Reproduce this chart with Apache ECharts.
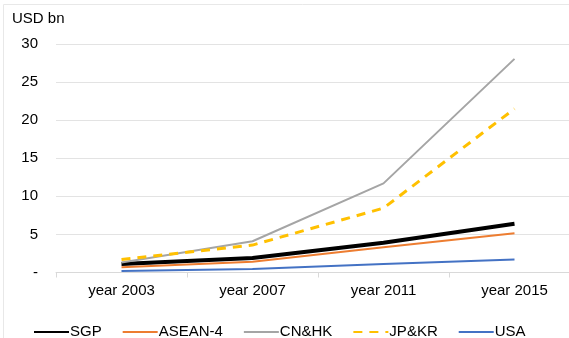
<!DOCTYPE html>
<html>
<head>
<meta charset="utf-8">
<script src="https://cdn.jsdelivr.net/npm/echarts@6/dist/echarts.min.js"></script>
<style>
  html, body { margin: 0; padding: 0; background: #fff; overflow: hidden; }
  /* the plot runs past the right edge in the reference, so the canvas is wider than the window */
  #chart { width: 600px; height: 338px; }
</style>
</head>
<body>
<div id="chart"></div>
<script>
// data (USD bn)
const years = ["year 2003", "year 2007", "year 2011", "year 2015"];
const sgp = [1.1, 1.9, 3.9, 6.4];
const asean4 = [0.7, 1.4, 3.3, 5.15];
const cnhk = [1.3, 4.1, 11.7, 28.05];
const jpkr = [1.7, 3.6, 8.45, 21.5];
const usa = [0.2, 0.45, 1.1, 1.7];

const font = "Liberation Sans";
const chart = echarts.init(document.getElementById("chart"));

function line(name, data, color, width, type) {
  return {
    name: name,
    type: "line",
    data: data,
    symbol: "none",
    smooth: false,
    lineStyle: {color: color, width: width, type: type || "solid", cap: "butt"},
    itemStyle: {color: color}
  };
}

chart.setOption({
  animation: false,
  textStyle: {fontFamily: font},
  graphic: [
    {
      type: "rect",
      shape: {x: 3.5, y: 4.5, width: 650, height: 400},
      style: {fill: "none", stroke: "#e8e8e8", lineWidth: 1}
    },
    {
      type: "text",
      left: 12,
      top: 11,
      style: {text: "USD bn", font: "15px " + font, fill: "#000"}
    }
  ],
  grid: {left: 56, width: 524, top: 44, bottom: 65.5},
  legend: {
    left: 33,
    top: 324.5,
    padding: 0,
    itemWidth: 35,
    itemHeight: 14,
    itemGap: 20,
    itemStyle: {opacity: 0},
    textStyle: {fontSize: 15, color: "#000", padding: [0, 0, 0, -4]},
    data: ["SGP", "ASEAN-4", "CN&HK", "JP&KR", "USA"]
  },
  xAxis: {
    type: "category",
    data: years,
    boundaryGap: true,
    axisLine: {lineStyle: {color: "#d9d9d9"}},
    axisTick: {show: true, length: 5, lineStyle: {color: "#d9d9d9"}},
    axisLabel: {color: "#000", fontSize: 15, margin: 11}
  },
  yAxis: {
    type: "value",
    min: 0,
    max: 30,
    interval: 5,
    axisLine: {show: false},
    axisTick: {show: false},
    splitLine: {lineStyle: {color: "#e3e3e3"}},
    axisLabel: {
      color: "#000",
      fontSize: 15,
      margin: 18,
      formatter: function (v) { return v === 0 ? "-" : v; }
    }
  },
  series: [
    line("SGP", sgp, "#000000", 4),
    line("ASEAN-4", asean4, "#ED7D31", 2),
    line("CN&HK", cnhk, "#A5A5A5", 2),
    line("JP&KR", jpkr, "#FFC000", 3, [9, 7]),
    line("USA", usa, "#4472C4", 2)
  ]
});
</script>
</body>
</html>
